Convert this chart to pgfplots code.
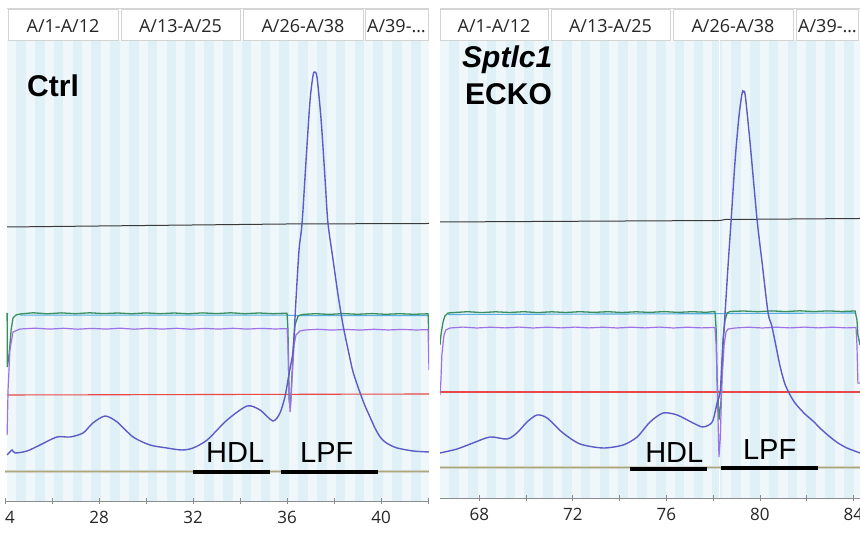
\documentclass[border=0pt]{standalone}
\usepackage{pgfplots}
\pgfplotsset{compat=1.18}
\usepackage{fontspec}
\setmainfont{Open Sans}
\newfontfamily\arial{Liberation Sans}
\definecolor{bgA}{HTML}{EFF7FB}
\definecolor{bgB}{HTML}{E0F0F7}
\definecolor{uv}{HTML}{5C5CC6}
\definecolor{grn}{HTML}{3A8F5E}
\definecolor{cyn}{HTML}{58AEE0}
\definecolor{prp}{HTML}{A070E6}
\definecolor{rd}{HTML}{E84848}
\definecolor{blk}{HTML}{3A3A3A}
\definecolor{olv}{HTML}{A9A878}
\definecolor{tabline}{HTML}{D4D4D4}
\pgfplotsset{chrom/.style={scale only axis, axis x line=bottom, axis y line=none,
  x axis line style={-, draw=black!45, line width=0.8pt},
  xtick style={draw=black!45, line width=0.8pt},
  minor x tick style={draw=black!45, line width=0.8pt},
  major tick length=6pt, minor tick length=6pt, tick align=center,
  xticklabel style={font=\fontsize{17}{17}\selectfont, text=black!85, yshift=-4pt},
  /pgf/number format/assume math mode=true, clip=true}}
\tikzset{tab/.style={draw=tabline, fill=white, line width=0.8pt},
  tabtxt/.style={inner sep=0, font=\fontsize{18}{18}\selectfont, text=black!85}}
\begin{document}
\begin{tikzpicture}
\useasboundingbox (0pt,0pt) rectangle (860pt,534pt);
\clip (0pt,0pt) rectangle (860pt,534pt);
\begin{scope}[x=1pt,y=1pt]
% panel backgrounds (fraction stripes)
\fill[bgA] (7,33) rectangle (429,494);
\begin{scope}
\clip (7,33) rectangle (429,494);
\foreach \i in {-1,...,23} {\fill[bgB] ({16.2+\i*18.8},33) rectangle ++(9.6,461);}
\end{scope}
\fill[bgA] (440,36) rectangle (860,494);
\begin{scope}
\clip (440,36) rectangle (860,494);
\foreach \i in {-1,...,23} {\fill[bgB] ({449.2+\i*18.8},36) rectangle ++(9.6,458);}
\end{scope}
% header tabs
\draw[tabline, line width=0.8pt] (7,526) -- (429,526);
\draw[tabline, line width=0.8pt] (440,526) -- (860,526);
\draw[tab] (8,494) rectangle (118,525);   \node[tabtxt, anchor=base] at (63,501) {A/1-A/12};
\draw[tab] (121,494) rectangle (240,525); \node[tabtxt, anchor=base] at (180.5,501) {A/13-A/25};
\draw[tab] (243,494) rectangle (363,525); \node[tabtxt, anchor=base] at (303,501) {A/26-A/38};
\draw[tab] (365,494) rectangle (428,525); \node[tabtxt, anchor=base west] at (367,501) {A/39-…};
\draw[tab] (440,494) rectangle (548,525); \node[tabtxt, anchor=base] at (494,501) {A/1-A/12};
\draw[tab] (551,494) rectangle (670,525); \node[tabtxt, anchor=base] at (610.5,501) {A/13-A/25};
\draw[tab] (673,494) rectangle (793,525); \node[tabtxt, anchor=base] at (733,501) {A/26-A/38};
\draw[tab] (796,494) rectangle (858,525); \node[tabtxt, anchor=base west] at (798,501) {A/39-…};
\end{scope}

% ---------------- left panel: Ctrl ----------------
\begin{axis}[chrom, at={(5pt,33pt)}, anchor=south west, width=424pt, height=461pt,
  xmin=24, xmax=42.04, ymin=33, ymax=494,
  xtick={24,28,32,36,40}, minor xtick={26,30,34,38,42}]
\addplot[olv!60!black!30, line width=3pt] coordinates {(24,62) (42.04,62)};
\addplot[olv, line width=1pt] coordinates {(24,62) (42.04,62)};
\addplot[blk, line width=1pt] coordinates {(24.09,307) (30,308.5) (36,310) (42.04,310.5)};
\addplot[rd, line width=1.1pt] coordinates {(24.09,139) (42.04,140)};
\addplot[cyn, line width=1.1pt] coordinates {(24.64,218.8) (36.00,218.8) (36.64,218.3) (42.00,218.3)};
\addplot[grn, line width=1.3pt] coordinates {(24.09,221) (24.10,167) (24.17,179) (24.21,189) (24.26,204) (24.34,216) (24.47,219) (24.64,220) (25.2,221.2) (25.8,220.2) (26.4,221.1) (27.0,220.3) (27.6,221.2) (28.2,220.4) (28.8,221.0) (29.4,220.2) (30.0,221.1) (30.6,220.3) (31.2,221.0) (31.8,220.2) (32.4,221.1) (33.0,220.4) (33.6,221.2) (34.2,220.3) (34.8,221.0) (35.4,220.3) (36.00,220.8) (36.04,204) (36.09,134) (36.13,126) (36.17,139) (36.26,184) (36.34,209) (36.47,218) (36.64,219.5) (37.2,220.3) (37.8,219.6) (38.4,220.4) (39.0,219.7) (39.6,220.4) (40.2,219.7) (40.8,220.3) (41.4,219.7) (42.00,220.2) (42.04,194)};
\addplot[prp, line width=1.2pt] coordinates {(24.09,99) (24.13,144) (24.21,184) (24.34,202) (24.64,205) (25.3,205.8) (25.9,204.9) (26.5,205.7) (27.1,204.8) (27.7,205.6) (28.3,204.9) (28.9,205.8) (29.5,204.8) (30.1,205.6) (30.7,204.9) (31.3,205.7) (31.9,204.8) (32.5,205.6) (33.1,204.9) (33.7,205.7) (34.3,204.9) (34.9,205.6) (35.5,205.0) (36.00,205.4) (36.04,189) (36.09,139) (36.13,122) (36.17,134) (36.21,154) (36.30,189) (36.38,199) (36.55,203) (36.77,204) (37.3,204.7) (37.9,203.9) (38.5,204.6) (39.1,203.9) (39.7,204.7) (40.3,204.0) (40.9,204.6) (41.5,204.0) (42.00,204.4) (42.04,164)};
\addplot[uv, line width=1.4pt, smooth, tension=0.45] coordinates {(24.09,79) (24.30,84) (24.43,81) (24.94,83) (25.49,89) (26.21,97) (26.77,97) (27.32,101) (27.74,111) (28.26,118) (28.77,112) (29.45,97) (30.17,89) (30.89,86) (31.53,84) (32.00,86) (32.60,94) (33.45,114) (34.30,128) (34.85,124) (35.40,113) (35.70,121) (35.91,137) (36.04,154) (36.13,166) (36.26,184) (36.38,234) (36.51,284) (36.64,311) (36.81,374) (36.98,434) (37.11,459) (37.19,462) (37.28,456) (37.45,414) (37.62,354) (37.74,311) (37.96,274) (38.17,239) (38.38,209) (38.60,184) (38.81,162) (39.11,141) (39.32,128) (39.53,117) (39.74,106) (39.96,97) (40.17,92) (40.38,89) (40.68,86) (41.36,83) (42.04,82)};
\addplot[black, line width=4pt] coordinates {(32.00,62) (35.28,62)};
\addplot[black, line width=4pt] coordinates {(35.74,62) (39.87,62)};
\node[anchor=base west, inner sep=0, font=\arial\fontsize{29}{29}\selectfont] at (axis cs:32.55,71) {HDL};
\node[anchor=base west, inner sep=0, font=\arial\fontsize{29}{29}\selectfont] at (axis cs:36.55,71) {LPF};
\end{axis}

% ---------------- right panel: Sptlc1 ECKO ----------------
\begin{axis}[chrom, at={(440pt,36pt)}, anchor=south west, width=420pt, height=458pt,
  xmin=66.32, xmax=84.28, ymin=36, ymax=494,
  xtick={68,72,76,80,84}, minor xtick={70,74,78,82}]
\addplot[white, line width=1.5pt] coordinates {(78.27,36) (78.27,494)};
\addplot[olv!60!black!30, line width=3pt] coordinates {(66.32,66) (84.28,66)};
\addplot[olv, line width=1pt] coordinates {(66.32,66) (84.28,66)};
\addplot[blk, line width=1pt] coordinates {(66.32,312) (78.30,313.5) (78.51,314.5) (84.28,315.5)};
\addplot[rd, line width=1.1pt] coordinates {(66.32,142) (84.28,142)};
\addplot[cyn, line width=1.1pt] coordinates {(66.66,219.5) (78.08,220.3) (78.72,220.5) (84.07,221)};
\addplot[grn, line width=1.3pt] coordinates {(66.32,189) (66.36,199) (66.45,212) (66.53,218) (66.66,221) (66.96,221.5) (67.5,222.3) (68.1,221.4) (68.7,222.2) (69.3,221.5) (69.9,222.3) (70.5,221.4) (71.1,222.2) (71.7,221.5) (72.3,222.3) (72.9,221.6) (73.5,222.3) (74.1,221.5) (74.7,222.2) (75.3,221.6) (75.9,222.4) (76.5,221.6) (77.1,222.3) (77.7,221.7) (78.08,222.5) (78.13,204) (78.17,154) (78.25,114) (78.34,134) (78.42,194) (78.51,214) (78.60,221) (78.72,222.5) (79.3,223.0) (79.9,222.3) (80.5,223.1) (81.1,222.4) (81.7,223.2) (82.3,222.4) (82.9,223.1) (83.5,222.5) (84.07,223) (84.15,214) (84.19,199) (84.28,189)};
\addplot[prp, line width=1.2pt] coordinates {(66.32,139) (66.36,154) (66.40,179) (66.49,199) (66.57,204) (66.75,206) (67.3,206.9) (67.9,206.0) (68.5,206.8) (69.1,206.1) (69.7,206.9) (70.3,206.0) (70.9,206.8) (71.5,206.1) (72.1,206.9) (72.7,206.1) (73.3,206.8) (73.9,206.0) (74.5,206.8) (75.1,206.1) (75.7,206.9) (76.3,206.0) (76.9,206.8) (77.5,206.1) (78.08,206.5) (78.13,189) (78.21,114) (78.25,77) (78.30,94) (78.38,154) (78.47,189) (78.55,202) (78.64,205) (78.94,206) (79.5,206.8) (80.1,206.0) (80.7,206.8) (81.3,206.1) (81.9,206.9) (82.5,206.1) (83.1,206.8) (83.7,206.1) (84.11,206.5) (84.15,189) (84.19,151) (84.28,151)};
\addplot[uv, line width=1.4pt, smooth, tension=0.45] coordinates {(66.32,81) (67.05,85) (67.73,91) (68.46,97) (69.19,95) (69.61,101) (70.04,112) (70.47,119) (70.90,116) (71.58,101) (72.31,90) (73.29,86) (74.15,89) (74.75,97) (75.30,112) (75.86,121) (76.46,119) (77.14,111) (77.57,107) (77.96,112) (78.17,131) (78.30,142) (78.38,174) (78.51,221) (78.64,269) (78.77,314) (78.94,374) (79.11,419) (79.24,441) (79.28,442) (79.37,439) (79.58,391) (79.88,314) (80.09,272) (80.35,221) (80.52,207) (80.86,168) (81.07,150) (81.29,139) (81.50,131) (81.72,125) (81.97,119) (82.27,113) (82.61,105) (83.00,97) (83.34,91) (83.72,86) (84.28,81)};
\addplot[black, line width=4pt] coordinates {(74.45,65) (77.74,65)};
\addplot[black, line width=4pt] coordinates {(78.34,66) (82.49,66)};
\node[anchor=base west, inner sep=0, font=\arial\fontsize{29}{29}\selectfont] at (axis cs:75.09,71) {HDL};
\node[anchor=base west, inner sep=0, font=\arial\fontsize{29}{29}\selectfont] at (axis cs:79.27,74) {LPF};
\end{axis}

\begin{scope}[x=1pt,y=1pt]
\fill[white] (0,0) rectangle (4.5,32);
\node[anchor=base west, inner sep=0, font=\arial\bfseries\fontsize{30}{30}\selectfont] at (27,437) {Ctrl};
\node[anchor=base west, inner sep=0, font=\arial\bfseries\itshape\fontsize{30}{30}\selectfont] at (462,466) {Sptlc1};
\node[anchor=base west, inner sep=0, font=\arial\bfseries\fontsize{30}{30}\selectfont] at (465,429) {ECKO};
\end{scope}
\end{tikzpicture}
\end{document}
